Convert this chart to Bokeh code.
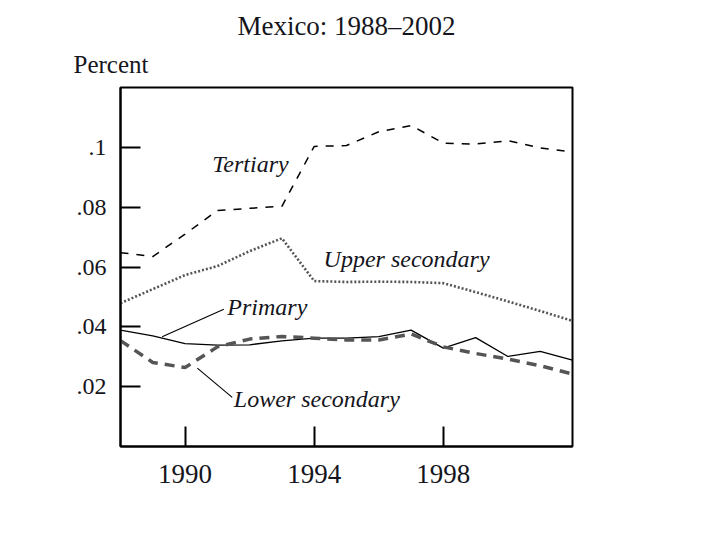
from bokeh.plotting import figure
from bokeh.models import Label, Range1d, FixedTicker, Segment, ColumnDataSource, Title
from bokeh.embed import file_html
from bokeh.resources import INLINE

years = list(range(1988, 2003))
tertiary = [0.0648, 0.0635, 0.0710, 0.0789, 0.0796, 0.0803, 0.1003, 0.1006, 0.1052, 0.1073,
            0.1014, 0.1011, 0.1022, 0.0998, 0.0984]
upper_secondary = [0.0479, 0.0526, 0.0573, 0.0603, 0.0653, 0.0696, 0.0553, 0.0550, 0.0551, 0.0550,
                   0.0546, 0.0516, 0.0485, 0.0453, 0.0420]
primary = [0.0389, 0.0370, 0.0344, 0.0339, 0.0340, 0.0353, 0.0362, 0.0362, 0.0367, 0.0389,
           0.0329, 0.0364, 0.0301, 0.0318, 0.0289]
lower_secondary = [0.0354, 0.0281, 0.0264, 0.0333, 0.0359, 0.0368, 0.0362, 0.0356, 0.0356, 0.0376,
                   0.0333, 0.0311, 0.0292, 0.0270, 0.0242]

x_ticks = [1990, 1994, 1998]
y_ticks = [0.02, 0.04, 0.06, 0.08, 0.1]
y_tick_labels = [".02", ".04", ".06", ".08", ".1"]

FONT = "Liberation Serif"
INK = "#151520"

p = figure(width=700, height=520, output_backend="svg", toolbar_location=None,
           x_range=Range1d(1988, 2002), y_range=Range1d(0, 0.12),
           min_border_left=120, min_border_right=128, min_border_top=87, min_border_bottom=74)
p.title.text = "Mexico: 1988\u20132002"
p.title.align = "center"
p.title.text_font = FONT
p.title.text_font_size = "27px"
p.title.text_font_style = "normal"
p.title.text_color = INK
p.title.standoff = -4
p.title.offset = -2

pct = Title(text="Percent", align="left", offset=-47, text_font=FONT, text_font_size="25px",
            text_font_style="normal", text_color=INK, standoff=20)
p.add_layout(pct, "above")

p.background_fill_color = "white"
p.border_fill_color = "white"
p.outline_line_color = "black"
p.outline_line_width = 2
p.xgrid.visible = False
p.ygrid.visible = False

for ax in (p.xaxis[0], p.yaxis[0]):
    ax.axis_line_color = "black"
    ax.axis_line_width = 2
    ax.major_tick_in = 20
    ax.major_tick_out = 0
    ax.major_tick_line_width = 2
    ax.major_tick_line_color = "black"
    ax.minor_tick_line_color = None
    ax.major_label_text_font = FONT
    ax.major_label_text_color = INK

p.xaxis.ticker = FixedTicker(ticks=x_ticks)
p.xaxis.major_label_text_font_size = "27px"
p.xaxis.major_label_standoff = 18
p.yaxis.ticker = FixedTicker(ticks=y_ticks)
p.yaxis.major_label_overrides = {t: l for t, l in zip(y_ticks, y_tick_labels)}
p.yaxis.major_label_text_font_size = "24px"
p.yaxis.major_label_standoff = 14

p.line(years, tertiary, line_color="black", line_width=1.5, line_dash="8 8")
p.line(years, upper_secondary, line_color="#555555", line_width=2.6, line_dash="2 2")
p.line(years, primary, line_color="black", line_width=1.3)
p.line(years, lower_secondary, line_color="#555555", line_width=3.5, line_dash="10 7")

# leader lines for labels
leaders = ColumnDataSource(dict(x0=[1989.29, 1990.38], y0=[0.0367, 0.0262],
                                x1=[1991.20, 1991.46], y1=[0.0459, 0.0164]))
p.add_glyph(leaders, Segment(x0="x0", y0="y0", x1="x1", y1="y1", line_color="black", line_width=1.1))

series_labels = [("Tertiary", 1990.84, 0.0943), ("Upper secondary", 1994.29, 0.0627),
                 ("Primary", 1991.31, 0.0466), ("Lower secondary", 1991.51, 0.0158)]
for txt, lx, ly in series_labels:
    p.add_layout(Label(x=lx, y=ly, text=txt, text_font=FONT, text_font_style="italic",
                       text_font_size="24px", text_color=INK, text_baseline="alphabetic",
                       text_align="left"))

open("out.html", "w").write(file_html(p, INLINE))
